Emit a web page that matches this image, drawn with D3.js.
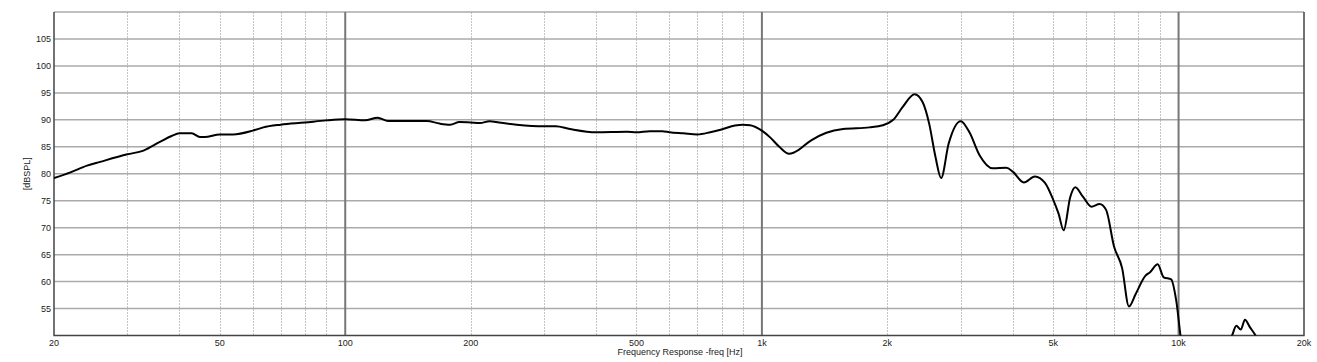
<!DOCTYPE html>
<html>
<head>
<meta charset="utf-8">
<script src="https://cdn.jsdelivr.net/npm/d3@7"></script>
<style>
  body { margin: 0; background: #fff; }
  svg { display: block; font-family: "Liberation Sans", Arial, sans-serif; }
</style>
</head>
<body>
<svg id="chart" width="1317" height="362"></svg>
<script>
// frequency response
const freqs = [20, 21.9, 24, 25.8, 30, 32.8, 35.9, 38.3, 40, 42.8, 44.8, 46, 50, 53.8, 60, 63.6, 70, 80, 90,
  100, 111.6, 119.6, 126.8, 157, 168.5, 178.6, 188, 200, 210.6, 222, 234, 258, 300, 320, 346, 400, 474, 500,
  538, 577, 600, 648, 700, 752, 800, 862, 900, 937, 1000, 1048, 1101, 1162, 1199, 1313, 1428, 1566, 1812,
  1950, 2066, 2178, 2324, 2430, 2520, 2610, 2692, 2807, 3000, 3148, 3332, 3584, 3862, 4000, 4252, 4520, 4780,
  5000, 5152, 5300, 5496, 5650, 5900, 6178, 6460, 6700, 7000, 7320, 7600, 7890, 8330, 8530, 8910, 9210, 9600,
  9870, 10150, 10500, 12000, 13440, 13760, 14100, 14430, 14840, 15250, 16000, 20000];
const spl = [79.2, 80.25, 81.5, 82.2, 83.6, 84.3, 85.9, 87.0, 87.5, 87.5, 86.8, 86.8, 87.3, 87.3, 88.0, 88.6, 89.1, 89.5, 89.9,
  90.1, 89.9, 90.4, 89.8, 89.8, 89.3, 89.1, 89.6, 89.5, 89.4, 89.75, 89.5, 89.1, 88.8, 88.8, 88.3, 87.7, 87.8, 87.7,
  87.9, 87.9, 87.7, 87.5, 87.3, 87.7, 88.2, 88.95, 89.1, 89.0, 88.0, 86.7, 85.0, 83.7, 84.0, 86.2, 87.6, 88.3, 88.6,
  89.0, 90.0, 92.4, 94.75, 93.3, 89.3, 83.1, 79.2, 85.6, 89.75, 87.7, 83.4, 81.0, 81.1, 80.4, 78.4, 79.5, 78.3,
  75.2, 72.6, 69.5, 75.7, 77.5, 75.7, 73.9, 74.4, 73.3, 66.5, 62.5, 55.4, 57.7, 61.1, 61.7, 63.2, 60.8, 60.4,
  56.5, 49.0, 45.0, 44.0, 50.0, 51.8, 51.1, 52.9, 51.5, 50.2, 47.0, 44.0];

const yTicks = [55, 60, 65, 70, 75, 80, 85, 90, 95, 100, 105];
const xTickValues = [20, 50, 100, 200, 500, 1000, 2000, 5000, 10000, 20000];
const xTickLabels = ['20', '50', '100', '200', '500', '1k', '2k', '5k', '10k', '20k'];
const majorFreqs = [100, 1000, 10000];

const mLeft = 54, mRight = 1304, mTop = 12, mBottom = 335.5;

const svg = d3.select('#chart');

const x = d3.scaleLog().domain([20, 20000]).range([mLeft, mRight]);
const y = d3.scaleLinear().domain([50, 110]).range([mBottom, mTop]);

// minor vertical grid: 2..9 of each decade
let minor = [];
[10, 100, 1000, 10000].forEach((dec) => {
  for (let k = 2; k <= 9; k++) {
    const f = dec * k;
    if (f > 20 && f < 20000) minor.push(f);
  }
});

svg.append('g').selectAll('line')
  .data(minor)
  .join('line')
  .attr('x1', (d) => Math.round(x(d)) + 0.5)
  .attr('x2', (d) => Math.round(x(d)) + 0.5)
  .attr('y1', mTop)
  .attr('y2', mBottom)
  .attr('stroke', '#c4c4c4')
  .attr('stroke-width', 1)
  .attr('stroke-dasharray', '2,1');

// horizontal grid
svg.append('g').selectAll('line')
  .data(yTicks.concat([110]))
  .join('line')
  .attr('x1', mLeft)
  .attr('x2', mRight)
  .attr('y1', (d) => y(d))
  .attr('y2', (d) => y(d))
  .attr('stroke', '#aaa')
  .attr('stroke-width', 1.5);

// decade lines
svg.append('g').selectAll('line')
  .data(majorFreqs)
  .join('line')
  .attr('x1', (d) => x(d))
  .attr('x2', (d) => x(d))
  .attr('y1', mTop)
  .attr('y2', mBottom)
  .attr('stroke', '#777')
  .attr('stroke-width', 2);

// frame: left, bottom, right
svg.append('path')
  .attr('d', `M${mLeft},${mTop}V${mBottom}H${mRight}V${mTop}`)
  .attr('fill', 'none')
  .attr('stroke', '#444')
  .attr('stroke-width', 1.5);

// y tick labels
svg.append('g').selectAll('text')
  .data(yTicks)
  .join('text')
  .attr('x', mLeft - 3)
  .attr('y', (d) => y(d) + 3)
  .attr('text-anchor', 'end')
  .attr('font-size', 9)
  .attr('fill', '#222')
  .text((d) => d);

// x tick labels
svg.append('g').selectAll('text')
  .data(xTickValues)
  .join('text')
  .attr('x', (d) => x(d))
  .attr('y', mBottom + 10)
  .attr('text-anchor', 'middle')
  .attr('font-size', 9)
  .attr('fill', '#222')
  .text((d, i) => xTickLabels[i]);

svg.append('text')
  .attr('text-anchor', 'middle')
  .attr('transform', `translate(30,${(mTop + mBottom) / 2})rotate(-90)`)
  .attr('font-size', 9)
  .attr('fill', '#222')
  .text('[dBSPL]');

svg.append('text')
  .attr('text-anchor', 'middle')
  .attr('x', 680)
  .attr('y', 355)
  .attr('font-size', 9)
  .attr('fill', '#222')
  .text('Frequency Response -freq [Hz]');

svg.append('clipPath')
  .attr('id', 'plot-clip')
  .append('rect')
  .attr('x', mLeft)
  .attr('y', mTop)
  .attr('width', mRight - mLeft)
  .attr('height', mBottom - mTop);

const line = d3.line()
  .x((d, i) => x(freqs[i]))
  .y((d) => y(d))
  .curve(d3.curveMonotoneX);

svg.append('path')
  .attr('clip-path', 'url(#plot-clip)')
  .attr('d', line(spl))
  .attr('fill', 'none')
  .attr('stroke', '#000')
  .attr('stroke-width', 2);
</script>
</body>
</html>
